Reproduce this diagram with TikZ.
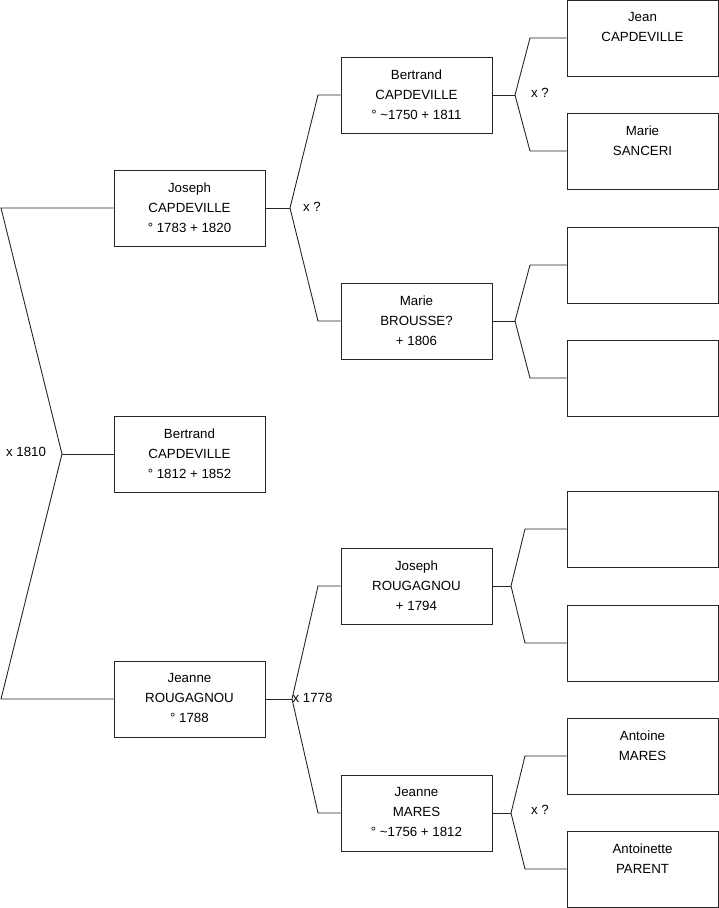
\documentclass[tikz,border=0pt]{standalone}
\usepackage{fontspec}
\setmainfont{Liberation Sans}
\usepackage{tikz}
\usetikzlibrary{calc}

% text of a box, set from the top
\newcommand{\who}[1]{\parbox[c][76pt][t]{151pt}{\centering\vspace*{12.5pt}#1}}

\begin{document}
\begin{tikzpicture}[
x=1pt,y=-1pt,
font=\fontsize{13.3}{20}\selectfont,
personbox/.style={
  draw=black!85,
  line width=0.9pt,
  inner sep=0pt,
  minimum width=151pt,
  minimum height=76pt},
link/.style={
  draw=black!85,
  line width=0.9pt},
union/.style={
  inner sep=0pt}
]
\useasboundingbox (0,0) rectangle (719,908);
% first generation
\node[personbox] (bertrand) at (189.5,454) {\who{Bertrand\\CAPDEVILLE\\° 1812 + 1852}};
\node[personbox] (joseph) at (189.5,208) {\who{Joseph\\CAPDEVILLE\\° 1783 + 1820}};
\node[personbox] (jeanne) at (189.5,699) {\who{Jeanne\\ROUGAGNOU\\° 1788}};
% parents
\node[personbox] (bertrandB) at (416.5,95) {\who{Bertrand\\CAPDEVILLE\\° \textasciitilde1750 + 1811}};
\node[personbox] (marie) at (416.5,321) {\who{Marie\\BROUSSE?\\+ 1806}};
\node[personbox] (josephR) at (416.5,586) {\who{Joseph\\ROUGAGNOU\\+ 1794}};
\node[personbox] (jeanneM) at (416.5,813) {\who{Jeanne\\MARES\\° \textasciitilde1756 + 1812}};
% grand parents
\node[personbox] (jean) at (642.5,38) {\who{Jean\\CAPDEVILLE}};
\node[personbox] (marieS) at (642.5,151) {\who{Marie\\SANCERI}};
\node[personbox] (anc3) at (642.5,265) {\who{}};
\node[personbox] (anc4) at (642.5,378) {\who{}};
\node[personbox] (anc5) at (642.5,529) {\who{}};
\node[personbox] (anc6) at (642.5,643) {\who{}};
\node[personbox] (antoine) at (642.5,756) {\who{Antoine\\MARES}};
\node[personbox] (antoinette) at (642.5,869) {\who{Antoinette\\PARENT}};

% fork of the first couple
\coordinate (f0) at (62,454);
\draw[link] (bertrand.west) -- (f0);
\draw[link] (joseph.west) -- (1,208) coordinate (t0) -- (f0) -- (1,699) coordinate (b0) -- (jeanne.west);

% the other forks
\foreach \kid/\dad/\mum/\fx/\bx in {
  joseph/bertrandB/marie/290/318,
  jeanne/josephR/jeanneM/292/318,
  bertrandB/jean/marieS/515/530,
  marie/anc3/anc4/515/530,
  josephR/anc5/anc6/511/525,
  jeanneM/antoine/antoinette/511/525}
{
  \draw[link] (\kid.east) -- (\kid.east -| \fx,0) coordinate (f\kid);
  \draw[link] (\dad.west) -- (\dad.west -| \bx,0) -- (f\kid) -- (\mum.west -| \bx,0) -- (\mum.west);
}

% weddings
\node[union] (u0) at (26,452) {x 1810};
\node[union] (u1) at (312,207) {x ?};
\node[union] (u2) at (312.5,698) {x 1778};
\node[union] (u3) at (540,93) {x ?};
\node[union] (u4) at (540,810) {x ?};
\end{tikzpicture}
\end{document}
